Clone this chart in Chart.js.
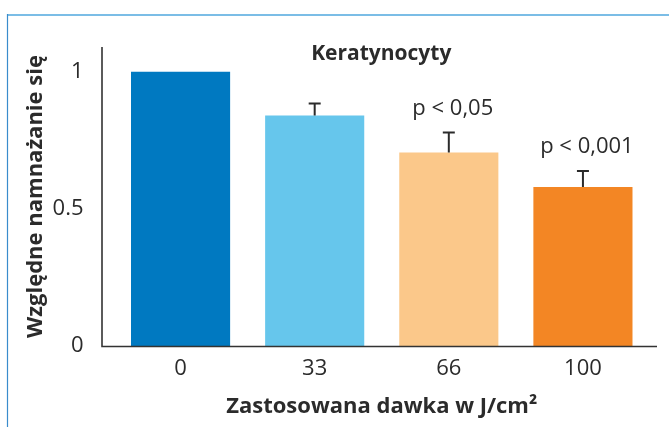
<!DOCTYPE html>
<html>
<head>
<meta charset="utf-8">
<script src="https://cdn.jsdelivr.net/npm/chart.js@4"></script>
<style>
  html, body { margin: 0; padding: 0; background: #fff; }
  #wrap { width: 669px; height: 427px; }
</style>
</head>
<body>
<div id="wrap"><canvas id="c" width="669" height="427"></canvas></div>
<script>
/* Keratynocyty: względne namnażanie się vs dawka */

const doses = ['0', '33', '66', '100'];
const growth = [1.0, 0.84, 0.705, 0.58];
const errUp = [0, 0.044, 0.073, 0.058];
const pLabels = ['', '', 'p < 0,05', 'p < 0,001'];
const barColors = ['#0079c1', '#66c6ec', '#fbc88a', '#f38624'];

const FONT = '"Open Sans", "Noto Sans", sans-serif';
const INK = '#2b2b2b';

const extras = {
  id: 'extras',
  beforeDraw(chart) {
    const ctx = chart.ctx;
    ctx.save();
    // ramka
    ctx.strokeStyle = '#7bbde6';
    ctx.lineWidth = 2;
    ctx.beginPath();
    ctx.moveTo(7, 15); ctx.lineTo(669, 15);
    ctx.stroke();
    ctx.strokeStyle = '#3a8ccc';
    ctx.lineWidth = 1.2;
    ctx.beginPath();
    ctx.moveTo(7.5, 14); ctx.lineTo(7.5, 427);
    ctx.stroke();
    ctx.restore();
  },
  afterDatasetsDraw(chart) {
    const ctx = chart.ctx;
    const x = chart.scales.x, y = chart.scales.y;
    const a = chart.chartArea;
    ctx.save();
    // osie
    ctx.strokeStyle = '#333';
    ctx.lineWidth = 1.6;
    ctx.beginPath();
    ctx.moveTo(a.left - 11.5, y.getPixelForValue(1.09));
    ctx.lineTo(a.left - 11.5, a.bottom + 0.5);
    ctx.lineTo(657, a.bottom + 0.5);
    ctx.stroke();
    // słupki błędów
    ctx.lineWidth = 2;
    ctx.strokeStyle = '#2b2b2b';
    growth.forEach((v, i) => {
      if (!errUp[i]) return;
      const cx = x.getPixelForValue(i);
      const top = y.getPixelForValue(v + errUp[i]);
      const base = y.getPixelForValue(v);
      ctx.beginPath();
      ctx.moveTo(cx, base); ctx.lineTo(cx, top);
      ctx.moveTo(cx - 6, top); ctx.lineTo(cx + 6, top);
      ctx.stroke();
    });
    // p-wartości
    ctx.fillStyle = INK;
    ctx.font = '22px ' + FONT;
    ctx.textAlign = 'center';
    ctx.textBaseline = 'alphabetic';
    pLabels.forEach((t, i) => {
      if (!t) return;
      const cx = x.getPixelForValue(i);
      const top = y.getPixelForValue(growth[i] + errUp[i]);
      ctx.fillText(t, cx + 4, top - 18);
    });
    // tytuł
    ctx.font = 'bold 21px ' + FONT;
    ctx.fillText('Keratynocyty', (a.left + a.right) / 2 - 0.5, 60);
    ctx.restore();
  }
};

new Chart(document.getElementById('c'), {
  type: 'bar',
  data: {
    labels: doses,
    datasets: [{
      data: growth,
      backgroundColor: barColors,
      borderWidth: 0,
      barPercentage: 0.739,
      categoryPercentage: 1
    }]
  },
  options: {
    responsive: false,
    animation: false,
    devicePixelRatio: 1,
    layout: { padding: { top: 47, right: 19, bottom: 0, left: 0 } },
    plugins: { legend: { display: false }, tooltip: { enabled: false } },
    scales: {
      x: {
        grid: { display: false },
        border: { display: false },
        ticks: { color: INK, font: { family: FONT, size: 22 }, padding: 2 },
        title: {
          display: true, text: 'Zastosowana dawka w J/cm²', color: INK,
          font: { family: FONT, size: 22, weight: 'bold' }, padding: { top: 0, bottom: 7 }
        },
        afterFit: s => { s.height = 81; }
      },
      y: {
        min: 0, max: 1.09,
        grid: { display: false },
        border: { display: false },
        afterBuildTicks: s => { s.ticks = [{ value: 0 }, { value: 0.5 }, { value: 1 }]; },
        ticks: {
          color: INK, font: { family: FONT, size: 22 }, padding: 22,
          callback: v => String(v)
        },
        title: {
          display: true, text: 'Względne namnażanie się', color: INK,
          font: { family: FONT, size: 22, weight: 'bold' }, padding: { top: 23, bottom: 0 }
        },
        afterFit: s => { s.width = 113.5; }
      }
    }
  },
  plugins: [extras]
});
</script>
</body>
</html>
